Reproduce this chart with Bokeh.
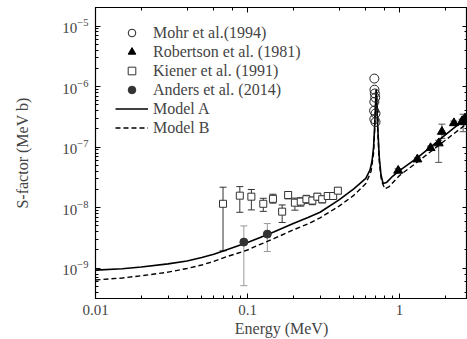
from bokeh.plotting import figure
from bokeh.models import (LogAxis, Legend, LegendItem, Whisker, ColumnDataSource,
                          TeeHead, CustomJSTickFormatter)
from bokeh.embed import file_html
from bokeh.resources import INLINE

# ---------------- data ----------------
mohr_e = [0.683, 0.684, 0.688, 0.692, 0.683, 0.680, 0.695, 0.683, 0.695]
mohr_s = [1.36e-6, 8.9e-7, 7.7e-7, 6.6e-7, 5.6e-7, 4.0e-7, 3.6e-7, 2.9e-7, 2.6e-7]

rob_e = [0.98, 1.31, 1.60, 1.81, 1.90, 2.28, 2.58, 2.62, 2.70]
rob_s = [4.1e-8, 6.3e-8, 9.7e-8, 1.16e-7, 1.8e-7, 2.5e-7, 2.7e-7, 2.6e-7, 3.0e-7]
rob_lo = [3.8e-8, 5.9e-8, 9.0e-8, 5.6e-8, 1.4e-7, 2.3e-7, 2.5e-7, 1.8e-7, 2.8e-7]
rob_hi = [4.4e-8, 6.7e-8, 1.04e-7, 1.3e-7, 2.4e-7, 2.7e-7, 2.9e-7, 3.5e-7, 3.2e-7]

kie_e = [0.069, 0.089, 0.106, 0.127, 0.147, 0.169, 0.185, 0.205, 0.224, 0.244,
         0.267, 0.288, 0.31, 0.337, 0.366, 0.393]
kie_s = [1.16e-8, 1.58e-8, 1.52e-8, 1.16e-8, 1.40e-8, 8.6e-9, 1.62e-8, 1.21e-8,
         1.26e-8, 1.38e-8, 1.31e-8, 1.52e-8, 1.38e-8, 1.56e-8, 1.56e-8, 1.91e-8]
kie_lo = [1.94e-9, 8.4e-9, 9.2e-9, 8.7e-9, 1.19e-8, 5.7e-9, 1.40e-8, 9.1e-9,
          1.06e-8, 1.18e-8, 1.12e-8, 1.32e-8, 1.2e-8, 1.38e-8, 1.4e-8, 1.7e-8]
kie_hi = [2.18e-8, 2.23e-8, 2.0e-8, 1.43e-8, 1.67e-8, 1.11e-8, 1.84e-8, 1.44e-8,
          1.46e-8, 1.6e-8, 1.5e-8, 1.72e-8, 1.56e-8, 1.75e-8, 1.72e-8, 2.1e-8]

and_e = [0.0946, 0.135]
and_s = [2.7e-9, 3.66e-9]
and_lo = [5.15e-10, 1.89e-9]
and_hi = [5.0e-9, 5.47e-9]

modelA_e = [0.01, 0.015, 0.02, 0.03, 0.04, 0.05, 0.06, 0.07, 0.085, 0.1, 0.12,
            0.15, 0.2, 0.25, 0.3, 0.4, 0.5, 0.6, 0.64, 0.66, 0.675, 0.685, 0.695,
            0.703, 0.71, 0.72, 0.735, 0.755, 0.78, 0.82, 0.9, 1.0, 1.3, 1.6, 2.0,
            2.5, 2.8]
modelA_s = [9.3e-10, 9.8e-10, 1.05e-9, 1.18e-9, 1.32e-9, 1.5e-9, 1.7e-9, 1.95e-9,
            2.3e-9, 2.65e-9, 3.2e-9, 4.0e-9, 5.5e-9, 6.9e-9, 8.4e-9, 1.35e-8,
            2.05e-8, 3.05e-8, 4.2e-8, 6.0e-8, 1.0e-7, 2.0e-7, 5.0e-7, 9.0e-7,
            5.0e-7, 2.0e-7, 7.0e-8, 3.5e-8, 2.5e-8, 2.6e-8, 3.3e-8, 4.1e-8,
            6.6e-8, 1.0e-7, 1.6e-7, 2.5e-7, 3.1e-7]

modelB_e = [0.01, 0.015, 0.02, 0.03, 0.04, 0.05, 0.06, 0.07, 0.085, 0.1, 0.12,
            0.15, 0.2, 0.25, 0.3, 0.4, 0.5, 0.6, 0.65, 0.675, 0.685, 0.695, 0.703,
            0.71, 0.72, 0.735, 0.76, 0.8, 0.85, 1.0, 1.3, 1.6, 2.0, 2.5, 2.8]
modelB_s = [6.4e-10, 6.9e-10, 7.5e-10, 8.6e-10, 9.9e-10, 1.13e-9, 1.3e-9, 1.5e-9,
            1.75e-9, 2.0e-9, 2.45e-9, 3.1e-9, 4.3e-9, 5.4e-9, 6.8e-9, 1.06e-8,
            1.6e-8, 2.5e-8, 4.0e-8, 8.0e-8, 1.8e-7, 4.8e-7, 8.8e-7, 4.8e-7,
            1.8e-7, 6.0e-8, 2.8e-8, 2.05e-8, 2.2e-8, 3.4e-8, 5.6e-8, 8.4e-8,
            1.3e-7, 2.0e-7, 2.5e-7]

FONT = "'Liberation Serif', 'Times New Roman', serif"

p = figure(width=467, height=339, x_axis_type="log", y_axis_type="log",
           x_range=(0.01, 2.8), y_range=(3.16e-10, 2.03e-5),
           output_backend="svg", toolbar_location=None,
           min_border_left=95, min_border_right=0, min_border_top=7,
           min_border_bottom=40)
p.background_fill_color = "white"
p.border_fill_color = "white"
p.outline_line_color = "black"
p.outline_line_width = 1.2
p.xgrid.visible = False
p.ygrid.visible = False

# error bars
kie_src = ColumnDataSource(dict(x=kie_e, lo=kie_lo, hi=kie_hi))
p.add_layout(Whisker(source=kie_src, base="x", lower="lo", upper="hi",
                     line_color="#333333", line_width=1,
                     upper_head=TeeHead(size=7, line_color="#333333", line_width=1),
                     lower_head=TeeHead(size=7, line_color="#333333", line_width=1)))
and_src = ColumnDataSource(dict(x=and_e, lo=and_lo, hi=and_hi))
p.add_layout(Whisker(source=and_src, base="x", lower="lo", upper="hi",
                     line_color="#999999", line_width=1,
                     upper_head=TeeHead(size=7, line_color="#999999", line_width=1),
                     lower_head=TeeHead(size=7, line_color="#999999", line_width=1)))
rob_src = ColumnDataSource(dict(x=rob_e, lo=rob_lo, hi=rob_hi))
p.add_layout(Whisker(source=rob_src, base="x", lower="lo", upper="hi",
                     line_color="#555555", line_width=1,
                     upper_head=TeeHead(size=7, line_color="#555555", line_width=1),
                     lower_head=TeeHead(size=7, line_color="#555555", line_width=1)))

rA = p.line(modelA_e, modelA_s, line_color="black", line_width=1.6)
rB = p.line(modelB_e, modelB_s, line_color="black", line_width=1.4, line_dash="5 3")

r_mohr = p.scatter(mohr_e, mohr_s, marker="circle", size=9, fill_color=None,
                   line_color="#222222", line_width=1)
r_rob = p.scatter(rob_e, rob_s, marker="triangle", size=9, fill_color="black",
                  line_color="black")
r_kie = p.scatter(kie_e, kie_s, marker="square", size=7, fill_color="white",
                  line_color="#333333", line_width=1)
r_and = p.scatter(and_e, and_s, marker="circle", size=8, fill_color="#333333",
                  line_color="#333333")

legend = Legend(items=[
    LegendItem(label="Mohr et al.(1994)", renderers=[r_mohr]),
    LegendItem(label="Robertson et al. (1981)", renderers=[r_rob]),
    LegendItem(label="Kiener et al. (1991)", renderers=[r_kie]),
    LegendItem(label="Anders et al. (2014)", renderers=[r_and]),
    LegendItem(label="Model A", renderers=[rA]),
    LegendItem(label="Model B", renderers=[rB]),
], location=(20, 161), padding=0, margin=0, spacing=0,
    glyph_width=33, glyph_height=19, label_height=19, label_standoff=5,
    label_text_font=FONT, label_text_font_size="16px",
    border_line_color=None, background_fill_alpha=0)
p.add_layout(legend)

# axes styling
for ax in [p.xaxis[0], p.yaxis[0]]:
    ax.major_tick_in = 5
    ax.major_tick_out = 0
    ax.minor_tick_in = 3
    ax.minor_tick_out = 0
    ax.axis_line_color = "black"
    ax.major_label_text_font = FONT
    ax.major_label_text_font_size = "15px"
    ax.axis_label_text_font = FONT
    ax.axis_label_text_font_size = "16px"
    ax.axis_label_text_font_style = "normal"

p.xaxis[0].formatter = CustomJSTickFormatter(code="return Number(tick.toPrecision(6)).toString();")
p.xaxis[0].axis_label = "Energy (MeV)"
p.xaxis[0].major_label_standoff = 6
p.xaxis[0].axis_label_standoff = 2
p.yaxis[0].axis_label = "S-factor (MeV b)"
p.yaxis[0].major_label_standoff = 7
p.yaxis[0].axis_label_standoff = 28

top = LogAxis(major_tick_in=5, major_tick_out=0, minor_tick_in=3, minor_tick_out=0,
              major_label_text_font_size="1px", major_label_text_color=None,
              major_label_standoff=0)
right = LogAxis(major_tick_in=5, major_tick_out=0, minor_tick_in=3, minor_tick_out=0,
                major_label_text_font_size="1px", major_label_text_color=None,
                major_label_standoff=0)
p.add_layout(top, "above")
p.add_layout(right, "right")

open("out.html", "w").write(file_html(p, INLINE))
